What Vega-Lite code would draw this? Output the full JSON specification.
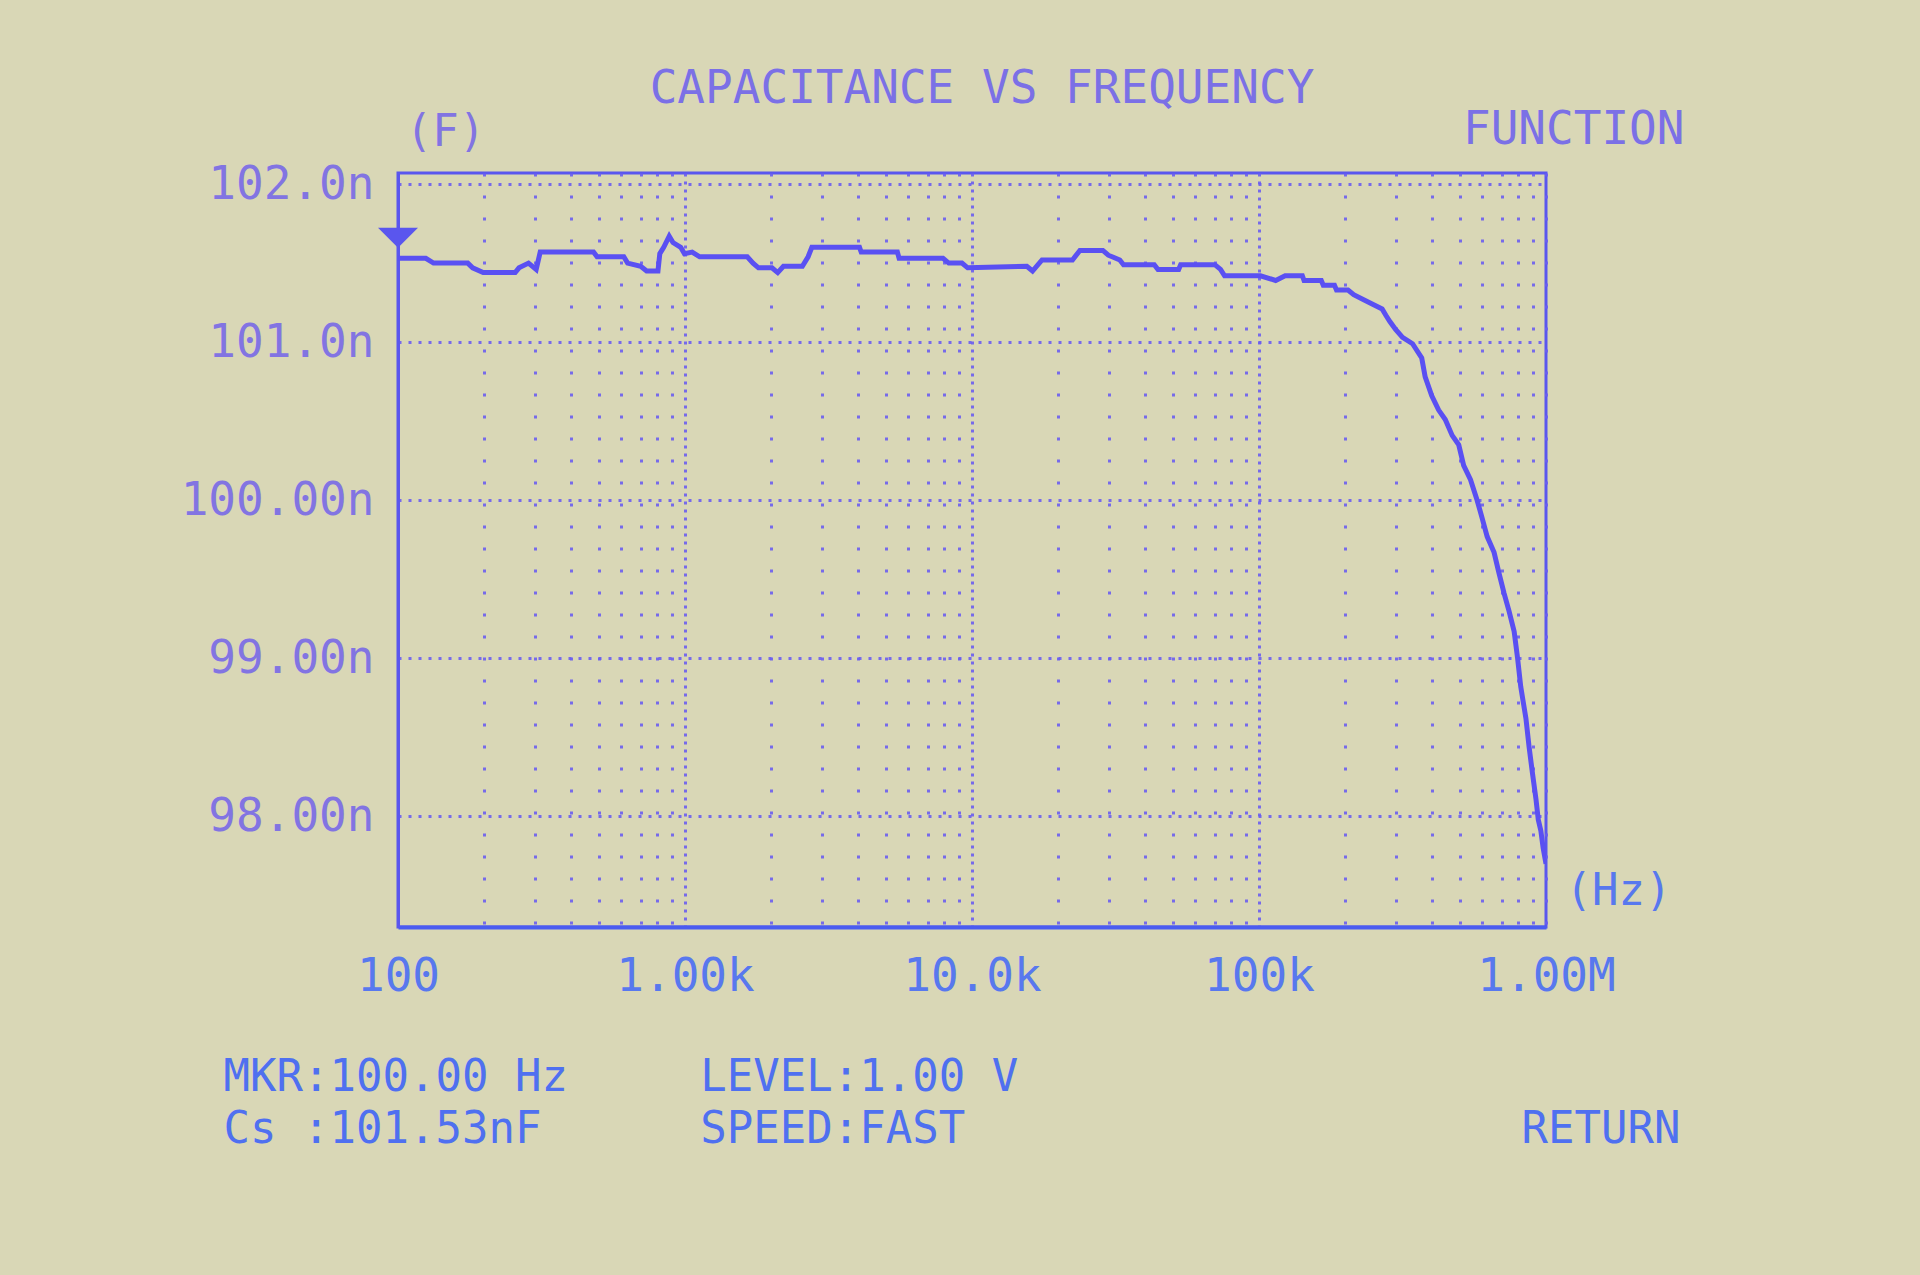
{
  "$schema": "https://vega.github.io/schema/vega-lite/v6.json",
  "width": 1148,
  "height": 754,
  "autosize": "none",
  "padding": {"left": 398, "top": 173, "right": 374, "bottom": 348},
  "background": "#d9d7b6",
  "title": {
    "text": "CAPACITANCE VS FREQUENCY",
    "frame": "group",
    "anchor": "middle",
    "dx": 10,
    "offset": -7,
    "font": "DejaVu Sans Mono",
    "fontSize": 46,
    "fontWeight": "normal",
    "color": "#7b70e6"
  },
  "config": {
    "font": "DejaVu Sans Mono",
    "view": {"stroke": "#5a56ee", "strokeWidth": 3, "fill": null}
  },
  "datasets": {
    "curve": [
      {"f": 100, "C": 101.53},
      {"f": 125, "C": 101.53},
      {"f": 133, "C": 101.50},
      {"f": 175, "C": 101.50},
      {"f": 182, "C": 101.47},
      {"f": 198, "C": 101.44},
      {"f": 256, "C": 101.44},
      {"f": 264, "C": 101.47},
      {"f": 285, "C": 101.50},
      {"f": 303, "C": 101.46},
      {"f": 313, "C": 101.57},
      {"f": 480, "C": 101.57},
      {"f": 494, "C": 101.54},
      {"f": 612, "C": 101.54},
      {"f": 631, "C": 101.50},
      {"f": 701, "C": 101.48},
      {"f": 735, "C": 101.45},
      {"f": 805, "C": 101.45},
      {"f": 817, "C": 101.56},
      {"f": 843, "C": 101.60},
      {"f": 881, "C": 101.67},
      {"f": 908, "C": 101.63},
      {"f": 966, "C": 101.60},
      {"f": 995, "C": 101.56},
      {"f": 1059, "C": 101.57},
      {"f": 1125, "C": 101.54},
      {"f": 1648, "C": 101.54},
      {"f": 1726, "C": 101.50},
      {"f": 1803, "C": 101.47},
      {"f": 2009, "C": 101.47},
      {"f": 2104, "C": 101.44},
      {"f": 2203, "C": 101.48},
      {"f": 2564, "C": 101.48},
      {"f": 2685, "C": 101.54},
      {"f": 2767, "C": 101.60},
      {"f": 4055, "C": 101.60},
      {"f": 4111, "C": 101.57},
      {"f": 5495, "C": 101.57},
      {"f": 5572, "C": 101.53},
      {"f": 7925, "C": 101.53},
      {"f": 8299, "C": 101.50},
      {"f": 9226, "C": 101.50},
      {"f": 9661, "C": 101.47},
      {"f": 15524, "C": 101.48},
      {"f": 16255, "C": 101.45},
      {"f": 17539, "C": 101.52},
      {"f": 22387, "C": 101.52},
      {"f": 23768, "C": 101.58},
      {"f": 28576, "C": 101.58},
      {"f": 29854, "C": 101.55},
      {"f": 32734, "C": 101.52},
      {"f": 33729, "C": 101.49},
      {"f": 43152, "C": 101.49},
      {"f": 44463, "C": 101.46},
      {"f": 52481, "C": 101.46},
      {"f": 53333, "C": 101.49},
      {"f": 70146, "C": 101.49},
      {"f": 73451, "C": 101.46},
      {"f": 75858, "C": 101.42},
      {"f": 85114, "C": 101.42},
      {"f": 101158, "C": 101.42},
      {"f": 114288, "C": 101.39},
      {"f": 123310, "C": 101.42},
      {"f": 141579, "C": 101.42},
      {"f": 143549, "C": 101.39},
      {"f": 164816, "C": 101.39},
      {"f": 167494, "C": 101.36},
      {"f": 183231, "C": 101.36},
      {"f": 186209, "C": 101.33},
      {"f": 204174, "C": 101.33},
      {"f": 213796, "C": 101.30},
      {"f": 230675, "C": 101.27},
      {"f": 248886, "C": 101.24},
      {"f": 268534, "C": 101.21},
      {"f": 276694, "C": 101.17},
      {"f": 285759, "C": 101.13},
      {"f": 299226, "C": 101.08},
      {"f": 316228, "C": 101.03},
      {"f": 342768, "C": 100.99},
      {"f": 368978, "C": 100.90},
      {"f": 379315, "C": 100.78},
      {"f": 399945, "C": 100.66},
      {"f": 422669, "C": 100.57},
      {"f": 445656, "C": 100.51},
      {"f": 470977, "C": 100.41},
      {"f": 496592, "C": 100.35},
      {"f": 516416, "C": 100.22},
      {"f": 545758, "C": 100.13},
      {"f": 575440, "C": 100.00},
      {"f": 598412, "C": 99.89},
      {"f": 623735, "C": 99.77},
      {"f": 659174, "C": 99.67},
      {"f": 685488, "C": 99.54},
      {"f": 714496, "C": 99.41},
      {"f": 743019, "C": 99.30},
      {"f": 774462, "C": 99.17},
      {"f": 796159, "C": 99.00},
      {"f": 816582, "C": 98.82},
      {"f": 851138, "C": 98.62},
      {"f": 872971, "C": 98.44},
      {"f": 897428, "C": 98.27},
      {"f": 922571, "C": 98.11},
      {"f": 939723, "C": 97.98},
      {"f": 959401, "C": 97.91},
      {"f": 977237, "C": 97.80},
      {"f": 1000000, "C": 97.70}
    ],
    "marker": [
      {"f": 100, "C": 101.66}
    ]
  },
  "layer": [
    {
      "data": {"name": "curve"},
      "mark": {"type": "line", "color": "#5a50f2", "strokeWidth": 5, "clip": true},
      "encoding": {
        "x": {
          "field": "f",
          "type": "quantitative",
          "scale": {"type": "log", "domain": [100, 1000000], "nice": false},
          "axis": {
            "orient": "bottom",
            "values": [100, 200, 300, 400, 500, 600, 700, 800, 900, 1000, 2000, 3000, 4000, 5000, 6000, 7000, 8000, 9000, 10000, 20000, 30000, 40000, 50000, 60000, 70000, 80000, 90000, 100000, 200000, 300000, 400000, 500000, 600000, 700000, 800000, 900000, 1000000],
            "labelExpr": "datum.value == 100 ? '100' : datum.value == 1000 ? '1.00k' : datum.value == 10000 ? '10.0k' : datum.value == 100000 ? '100k' : datum.value == 1000000 ? '1.00M' : ''",
            "labelOverlap": false,
            "labelBound": false,
            "labelFlush": false,
            "labelLimit": 400,
            "labelFont": "DejaVu Sans Mono",
            "labelFontSize": 46,
            "labelColor": "#5878ee",
            "labelPadding": 27,
            "ticks": false,
            "domain": true,
            "domainColor": "#4a5cf0",
            "domainWidth": 4,
            "grid": true,
            "gridColor": "#6a5ef0",
            "gridWidth": 3,
            "gridOpacity": 0.9,
            "gridDash": {"condition": {"test": "datum.value == 1000 || datum.value == 10000 || datum.value == 100000", "value": [3, 5]}, "value": [3, 19]},
            "title": ["MKR:100.00 Hz\u00a0\u00a0\u00a0\u00a0\u00a0LEVEL:1.00 V", "Cs :101.53nF\u00a0\u00a0\u00a0\u00a0\u00a0\u00a0SPEED:FAST\u00a0\u00a0\u00a0\u00a0\u00a0\u00a0\u00a0\u00a0\u00a0\u00a0\u00a0\u00a0\u00a0\u00a0\u00a0\u00a0\u00a0\u00a0\u00a0\u00a0\u00a0RETURN"],
            "titleFont": "DejaVu Sans Mono",
            "titleFontSize": 44,
            "titleFontWeight": "normal",
            "titleColor": "#4f70f0",
            "titleAlign": "left",
            "titleBaseline": "top",
            "titleAngle": 0,
            "titleX": -175,
            "titleY": 128,
            "titleLineHeight": 52
          }
        },
        "y": {
          "field": "C",
          "type": "quantitative",
          "scale": {"domain": [97.3, 102.07], "zero": false, "nice": false},
          "axis": {
            "orient": "left",
            "values": [98, 99, 100, 101, 102],
            "labelExpr": "datum.value == 102 ? '102.0n' : datum.value == 101 ? '101.0n' : datum.value == 100 ? '100.00n' : datum.value == 99 ? '99.00n' : '98.00n'",
            "labelFont": "DejaVu Sans Mono",
            "labelFontSize": 46,
            "labelColor": "#8274e2",
            "labelPadding": 24,
            "labelLimit": 400,
            "labelOverlap": false,
            "labelBound": false,
            "ticks": false,
            "domain": true,
            "domainColor": "#5a56ee",
            "domainWidth": 3,
            "grid": true,
            "gridColor": "#6a5ef0",
            "gridWidth": 3,
            "gridOpacity": 0.9,
            "gridDash": [3, 7],
            "title": "(F)",
            "titleFont": "DejaVu Sans Mono",
            "titleFontSize": 44,
            "titleFontWeight": "normal",
            "titleColor": "#8274e2",
            "titleAngle": 0,
            "titleAlign": "center",
            "titleBaseline": "middle",
            "titleX": 47,
            "titleY": -41
          }
        }
      }
    },
    {
      "data": {"name": "marker"},
      "mark": {"type": "point", "shape": "M-1,-0.5L1,-0.5L0,0.5Z", "size": 1600, "filled": true, "color": "#5a56ee", "opacity": 1, "clip": false},
      "encoding": {
        "x": {
          "field": "f",
          "type": "quantitative",
          "axis": {
            "orient": "top",
            "labels": false,
            "ticks": false,
            "domain": false,
            "grid": false,
            "title": "FUNCTION",
            "titleFont": "DejaVu Sans Mono",
            "titleFontSize": 46,
            "titleFontWeight": "normal",
            "titleColor": "#7b70e6",
            "titleAlign": "right",
            "titleBaseline": "middle",
            "titleAngle": 0,
            "titleX": 1286,
            "titleY": -44
          }
        },
        "y": {
          "field": "C",
          "type": "quantitative",
          "axis": {
            "orient": "right",
            "labels": false,
            "ticks": false,
            "domain": false,
            "grid": false,
            "title": "(Hz)",
            "titleFont": "DejaVu Sans Mono",
            "titleFontSize": 44,
            "titleFontWeight": "normal",
            "titleColor": "#5878ee",
            "titleAlign": "left",
            "titleBaseline": "middle",
            "titleAngle": 0,
            "titleX": 19,
            "titleY": 718
          }
        }
      }
    }
  ],
  "resolve": {"axis": {"x": "independent", "y": "independent"}}
}
